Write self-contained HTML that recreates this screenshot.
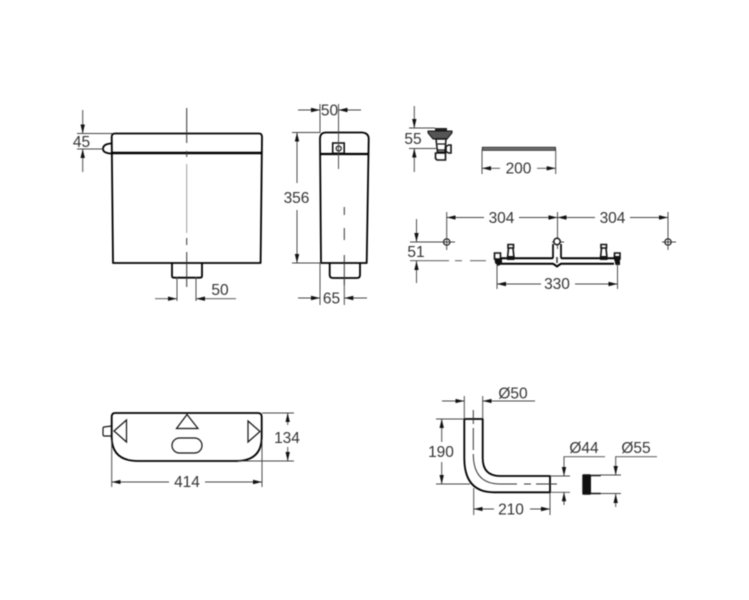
<!DOCTYPE html>
<html>
<head>
<meta charset="utf-8">
<style>
html,body{margin:0;padding:0;background:#fff;width:749px;height:600px;overflow:hidden}
svg{display:block;filter:blur(.45px)}
text{font-family:"Liberation Sans",sans-serif;font-size:15.5px;fill:#333;text-anchor:middle}
.o{fill:none;stroke:#000;stroke-width:1.8;stroke-linejoin:round}
.t{fill:none;stroke:#111;stroke-width:1.2}
.d{fill:none;stroke:#444;stroke-width:.95}
.c{fill:none;stroke:#333;stroke-width:1}
.f{fill:none;stroke:#777;stroke-width:.7}
</style>
</head>
<body>
<svg width="749" height="600" viewBox="0 0 749 600" xmlns="http://www.w3.org/2000/svg">
<defs>
<marker id="a" markerUnits="userSpaceOnUse" markerWidth="10" markerHeight="6" refX="9" refY="3" orient="auto">
<path d="M0 .8 L9 3 L0 5.200Z" fill="#111"/>
</marker>
</defs>

<!-- Front view -->
<path class="o" d="M113 263 L111.700 137 Q111.700 133.500 115 133.500 L259 133.500 Q262 133.500 262 137 L260.600 263 Z"/>
<path d="M111.700 153 H262" stroke="#000" stroke-width="2.400" fill="none"/>
<path class="o" d="M111 143.500 Q103 144 103 149 Q103 153 111 153.500"/>
<path class="o" d="M172 263 V276 Q172 277.700 174 277.700 H200 Q202 277.700 202 276 V263"/>
<path class="c" d="M186.700 108 V143 M186.700 151 V157 M186.700 238 V245 M186.700 252 V287"/>
<path class="f" d="M186.700 164 V233"/>
<path class="d" d="M77 133.500 H112 M77 149 H103"/>
<path class="d" d="M82.700 110 V133.500" marker-end="url(#a)"/>
<path class="d" d="M82.700 172 V149" marker-end="url(#a)"/>
<text x="81.500" y="147">45</text>
<path class="d" d="M177 277 V301 M196 277 V301"/>
<path class="d" d="M155 298.700 H177" marker-end="url(#a)"/>
<path class="d" d="M236 298.700 H196" marker-end="url(#a)"/>
<text x="220" y="295">50</text>

<!-- Side view -->
<path class="o" d="M321 263 L320 139 Q320 132.500 326 132.500 L362 132.500 Q368.700 133 368.700 139 L366.700 263 Z"/>
<path d="M320 154 H368.700" stroke="#000" stroke-width="2.200" fill="none"/>
<path class="o" d="M329.700 263 V275 Q329.700 278 333 278 H357 Q360 278 360 275 V263"/>
<rect x="332.700" y="143" width="11.500" height="10.300" fill="none" stroke="#111" stroke-width="1.600"/>
<circle cx="338.700" cy="148.500" r="2.500" class="t"/>
<path class="c" d="M344.300 207 V215 M344.300 228 V240 M344.300 255 V285"/>
<path class="d" d="M320 104 V133 M338.500 104 V169"/>
<path class="d" d="M298 110 H320" marker-end="url(#a)"/>
<path class="d" d="M361 110 H338.500" marker-end="url(#a)"/>
<text x="329.500" y="115.500">50</text>
<path class="d" d="M292 132.500 H320 M292 263 H321"/>
<path class="d" d="M297 183 V132.500" marker-end="url(#a)"/>
<path class="d" d="M297 210 V263" marker-end="url(#a)"/>
<text x="296.500" y="203">356</text>
<path class="d" d="M320 263 V305 M344.300 278 V305"/>
<path class="d" d="M298 298 H320" marker-end="url(#a)"/>
<path class="d" d="M367 298 H344.300" marker-end="url(#a)"/>
<text x="331.500" y="303.500">65</text>

<!-- Valve -->
<path d="M435 128 H447 V131.500 H435Z" fill="#222"/>
<path d="M428 131 H452 V133 L447 139 H433 L428 133Z" fill="#555" stroke="#111" stroke-width="1"/>
<path fill="#fff" stroke="#111" stroke-width="1.500" d="M436 139 L437.500 152 H445 L446 139 Z"/>
<path class="t" stroke-width="1.500" d="M437.500 144 H445.500 M437.500 150 H445.500"/>
<path fill="#fff" stroke="#111" stroke-width="1.600" d="M446 146.500 L448.500 145 H451 V153 H448.500 L446 151.500 Z M435.500 153 H445.500 V160 H437 L435.500 158.500Z"/>
<path class="d" d="M409 128 H435 M409 148.500 H437"/>
<path class="d" d="M414.300 106 V128" marker-end="url(#a)"/>
<path class="d" d="M414.300 172 V148.500" marker-end="url(#a)"/>
<text x="413" y="144">55</text>

<!-- Plate -->
<rect x="482.300" y="147.300" width="73.200" height="3" fill="#777" stroke="#222" stroke-width=".9"/>
<path class="d" d="M482 150 V174 M555.700 150 V174"/>
<path class="d" d="M500 168.300 H482" marker-end="url(#a)"/>
<path class="d" d="M537 168.300 H555.700" marker-end="url(#a)"/>
<text x="518.500" y="173.500">200</text>

<!-- Wall fixing -->
<circle cx="446.700" cy="242" r="3.200" class="t" stroke-width="1.500"/>
<circle cx="668" cy="242" r="3.200" class="t" stroke-width="1.500"/>
<path class="d" d="M446.700 212 V250 M557.500 212 V249 M668 212 V250 M441 242 H455 M552 242 H564 M662 242 H676"/>
<path class="d" d="M484 217.500 H446.700" marker-end="url(#a)"/>
<path class="d" d="M519 217.500 H557.500" marker-end="url(#a)"/>
<path class="d" d="M595 217.500 H557.500" marker-end="url(#a)"/>
<path class="d" d="M630 217.500 H668" marker-end="url(#a)"/>
<text x="501.500" y="223">304</text>
<text x="612.500" y="223">304</text>
<path class="d" d="M410 242 H446 M410 260.700 H449 M455 260.700 H462 M470 260.700 H486"/>
<path class="d" d="M416.500 219 V242" marker-end="url(#a)"/>
<path class="d" d="M416.500 283 V261" marker-end="url(#a)"/>
<text x="416" y="257">51</text>
<path d="M500 258.300 H553 M561 258.300 H614 M500 263.800 H553 L555 265 L557 266.500 L559 265 L561 263.800 H614" stroke="#000" stroke-width="2" fill="none"/>
<path d="M553 258.300 V244 M561 258.300 V244" stroke="#000" stroke-width="1.700" fill="none"/>
<circle cx="557" cy="241.500" r="3.200" fill="#fff" stroke="#111" stroke-width="1.500"/>
<path d="M557 257 V263" stroke="#333" stroke-width="1.500"/>
<path fill="#fff" stroke="#111" stroke-width="1.600" d="M494.500 253 H500.500 V259 H494.500Z M614.500 253 H620 V259 H614.500Z M508 244.500 H513.500 V248 H508Z M601 244.500 H606.500 V248 H601Z M508.500 248 H513 L514 258 H507.500Z M601.500 248 H606 L607 258 H600.500Z"/>
<path d="M494.500 259 H502 V264 L498 266 L495 263Z M613.500 256 H620 V265 H615.500Z M507 256 H514.500 V260 H507Z M600 256 H607.500 V260 H600Z" fill="#111"/>
<path class="d" d="M497 264 V289 M617.500 264 V289"/>
<path class="d" d="M541 284 H497" marker-end="url(#a)"/>
<path class="d" d="M575 284 H617.500" marker-end="url(#a)"/>
<text x="557" y="289">330</text>

<!-- Top view -->
<path class="o" d="M111.700 417 Q111.700 413 115 413 H258 Q261.700 413 261.700 417 V437 Q261.700 461 236 461 H138 Q111.700 461 111.700 437 Z"/>
<path class="t" d="M111.500 426 L104 427 Q103 427 103 429 V434 Q103 436 104 436 L111.500 436"/>
<path class="t" d="M114 431 L126.500 420 V442 Z M248 421 L260 431.500 L248 442 Z M176.500 428.500 L187 414.500 L198 428.500 Z"/>
<rect x="172" y="438" width="30" height="15" rx="7.500" ry="7.500" class="t"/>
<path class="d" d="M262 413 H294 M238 461 H294 M111.700 440 V487 M262 440 V487"/>
<path class="d" d="M287.700 425 V413" marker-end="url(#a)"/>
<path class="d" d="M287.700 447 V461" marker-end="url(#a)"/>
<text x="287" y="443">134</text>
<path class="d" d="M169 482 H111.700" marker-end="url(#a)"/>
<path class="d" d="M205 482 H262" marker-end="url(#a)"/>
<text x="187" y="487">414</text>

<!-- Pipe -->
<path class="o" d="M464.300 419 H482.700 V458 Q482.700 476 500 476 H550 V492.300 H494 Q464.300 492.300 464.300 458 Z"/>
<path class="c" d="M473.300 410 V424 M473.300 428 V450 M473.300 454 Q473.300 484 500 484 H517 M524 484 H531 M536 484 H557"/>
<path class="d" d="M464.300 396 V419 M482.700 396 V419"/>
<path class="d" d="M442 401 H464.300" marker-end="url(#a)"/>
<path class="d" d="M535 401 H482.700" marker-end="url(#a)"/>
<text x="513" y="398.500">Ø50</text>
<path class="d" d="M436 419 H464.300 M436 484 H470"/>
<path class="d" d="M441.700 442 V419" marker-end="url(#a)"/>
<path class="d" d="M441.700 462 V484" marker-end="url(#a)"/>
<text x="441" y="457">190</text>
<path class="d" d="M473.700 488 V515 M550 493 V515"/>
<path class="d" d="M494 509 H473.700" marker-end="url(#a)"/>
<path class="d" d="M530 509 H550" marker-end="url(#a)"/>
<text x="511" y="514.500">210</text>
<path class="d" d="M605 456.700 H564 V476" marker-end="url(#a)"/>
<path class="d" d="M550 476 H570 M550 492.300 H570"/>
<path class="d" d="M564 505 V492.300" marker-end="url(#a)"/>
<text x="584" y="453">Ø44</text>
<path class="d" d="M657 456.700 H615.700 V475" marker-end="url(#a)"/>
<path class="d" d="M600 475 H621 M600 493.500 H621"/>
<path class="d" d="M615.700 507 V494" marker-end="url(#a)"/>
<text x="636" y="453">Ø55</text>
<rect x="582.300" y="474.300" width="8.700" height="20.400" rx="1" fill="#111"/>
<path d="M591 475.500 H600.700 M591 493.500 H600.700" stroke="#111" stroke-width="1.500" fill="none"/>
</svg>
</body>
</html>
